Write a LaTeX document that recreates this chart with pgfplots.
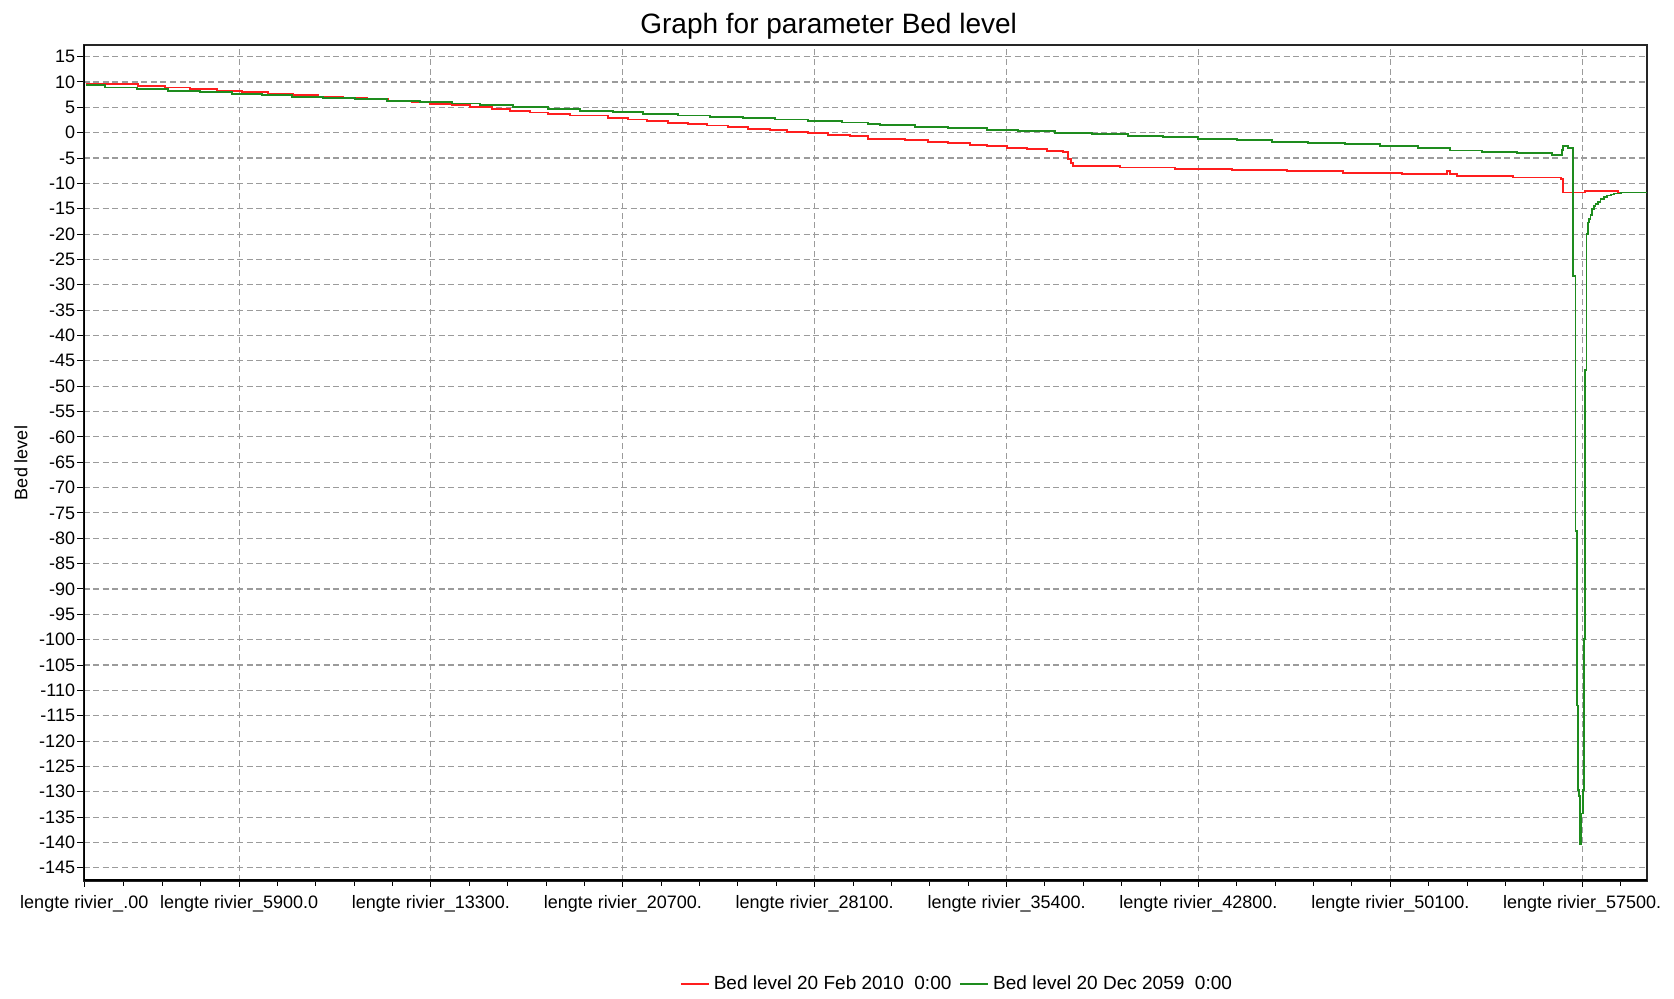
\documentclass[border=0pt]{standalone}
\usepackage{fontspec}
\setmainfont{Liberation Sans}
\usepackage{pgfplots}
\pgfplotsset{compat=1.18}
\definecolor{redline}{RGB}{255,30,30}
\definecolor{greenline}{RGB}{30,140,30}
\definecolor{gridgray}{RGB}{155,155,155}
\begin{document}
\begin{tikzpicture}
\path[use as bounding box] (0,0) rectangle (837pt,499.5pt);
\begin{axis}[
  at={(41.75pt,59pt)}, anchor=south west,
  scale only axis, width=781.75pt, height=418pt,
  xmin=-100, xmax=60200, ymin=-147.6, ymax=17.3,
  scaled x ticks=false, scaled y ticks=false,
  xtick={-70,5900,13300,20700,28100,35500,42900,50300,57700},
  xticklabels={lengte rivier\_.00, lengte rivier\_5900.0, lengte rivier\_13300., lengte rivier\_20700., lengte rivier\_28100., lengte rivier\_35400., lengte rivier\_42800., lengte rivier\_50100., lengte rivier\_57500.},
  minor xtick={1460,2940,...,59180},
  ytick={-145,-140,...,15},
  xtick pos=bottom, ytick pos=left,
  tick align=outside,
  major tick length=3pt, minor tick length=2.5pt,
  tick style={black, line width=0.5pt},
  /pgf/number format/assume math mode=true,
  tick label style={font=\fontsize{9}{10}\selectfont},
  xticklabel style={inner sep=0pt, yshift=-4pt},
  yticklabel style={inner sep=1pt},
  grid=major,
  major grid style={gridgray, line width=0.55pt, dash pattern=on 3pt off 1.8pt},
  axis line style={black!85, line width=0.8pt},
  title={Graph for parameter Bed level},
  title style={at={(axis description cs:0.4766,1.0287)}, anchor=center, yshift=-8.5pt, font=\fontsize{14}{16}\selectfont, inner sep=0pt},
  ylabel={Bed level},
  ylabel style={at={(axis description cs:-0.04,0.5)}, anchor=center, rotate=0, font=\fontsize{9}{10}\selectfont, inner sep=0pt},
  legend style={draw=none, fill=none, at={(axis description cs:0.5593,-0.1232)}, anchor=center, legend columns=2, font=\fontsize{9.5}{11}\selectfont, /tikz/every even column/.append style={column sep=2pt}},
  legend image code/.code={\draw[#1] (0pt,0pt) -- (14pt,0pt);},
]
\addplot[const plot mark left, color=redline, line width=0.9pt] coordinates {
(0,9.55) (2014,9.2) (3042,8.9) (4006,8.56) (5035,8.3) (5999,8.0) (7027,7.7)
(7992,7.4) (8956,7.15) (9920,6.85) (10820,6.6) (11656,6.3) (12556,6.05)
(13263,5.7) (14099,5.4) (14805,5.0) (15641,4.67) (16348,4.34) (17119,4.0)
(17826,3.75) (18662,3.4) (20141,2.85) (20912,2.6) (21619,2.25) (22455,1.95)
(23226,1.66) (23933,1.4) (24769,1.05) (25540,0.73) (26376,0.46) (27018,0.2)
(27854,-0.06) (28625,-0.4) (29461,-0.73) (30168,-1.2) (31582,-1.45)
(32482,-1.8) (33253,-2.05) (34089,-2.4) (34732,-2.64) (35503,-2.96)
(36275,-3.23) (37046,-3.55) (37689,-3.8) (37882,-5.2) (37980,-6.0)
(38074,-6.6) (39874,-6.85) (41996,-7.1) (44181,-7.4) (46303,-7.6)
(48488,-7.9) (50738,-8.2) (52480,-7.5) (52600,-8.2) (52859,-8.5)
(55045,-8.85) (56870,-9.1) (56970,-11.8) (57809,-11.5) (59094,-11.8)
(60200,-11.8)
};
\addlegendentry{Bed level 20 Feb 2010\ \ 0:00}
\addplot[const plot mark left, color=greenline, line width=0.9pt] coordinates {
(0,9.35) (728,8.9) (1949,8.56) (3171,8.2) (4392,7.97) (5613,7.7) (6770,7.4)
(7927,7.1) (9149,6.85) (10370,6.6) (11591,6.25) (12877,6.0) (14099,5.75)
(15191,5.45) (16477,5.0) (17826,4.67) (19048,4.34) (20333,4.08) (21490,3.75)
(22840,3.4) (24062,3.15) (25347,2.85) (26568,2.6) (27854,2.35) (29140,2.0)
(30168,1.7) (30618,1.45) (31968,1.2) (33253,0.86) (34732,0.6) (35953,0.27)
(37367,0) (38782,-0.33) (40196,-0.6) (41546,-0.9) (42895,-1.2) (44374,-1.5)
(45724,-1.8) (47138,-2.05) (48552,-2.3) (49902,-2.64) (51381,-2.96)
(52602,-3.5) (53823,-3.8) (55173,-4.08) (56523,-4.45) (56908,-3.4)
(56960,-2.6) (57145,-2.96) (57360,-28.3) (57440,-78.5) (57485,-113)
(57523,-129.7) (57577,-130.9) (57627,-140.3) (57666,-134.3) (57720,-129.7)
(57759,-99.9) (57809,-46.8) (57863,-20) (57913,-17.7) (57960,-17.0)
(58017,-16.3) (58083,-15.1) (58150,-14.5) (58214,-14.0) (58300,-13.6)
(58407,-13.1) (58530,-12.7) (58665,-12.4) (58800,-12.2) (58927,-12.0)
(59186,-11.8) (60200,-11.8)
};
\addlegendentry{Bed level 20 Dec 2059\ \ 0:00}
\draw[black, line width=1.5pt] (rel axis cs:0,1) -- (rel axis cs:0,0) -- (rel axis cs:1,0);
\end{axis}
\end{tikzpicture}
\end{document}
